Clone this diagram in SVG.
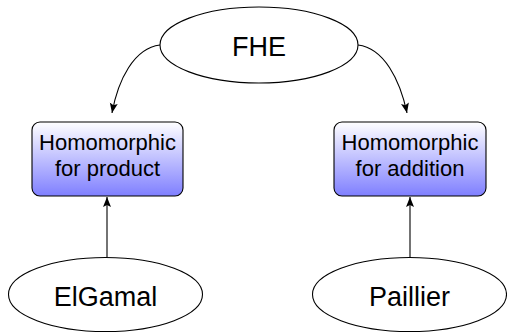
<svg xmlns="http://www.w3.org/2000/svg" width="507" height="333" viewBox="0 0 507 333">
  <style>
    .ell { fill: #ffffff; stroke: #000000; stroke-width: 1.1; }
    .box { stroke: #000000; stroke-width: 1.1; fill: url(#blueFade); }
    .lbl { font-family: "Liberation Sans", Arial, sans-serif; fill: #000000; text-anchor: middle; }
    .big { font-size: 27px; }
    .small { font-size: 22px; }
    .edge { fill: none; stroke: #000000; stroke-width: 1.1; marker-end: url(#tip); }
  </style>
  <defs>
    <linearGradient id="blueFade" x1="0" y1="0" x2="0" y2="1">
      <stop offset="0" stop-color="#ffffff"/>
      <stop offset="1" stop-color="#7f7fff"/>
    </linearGradient>
    <marker id="tip" viewBox="0 0 10 10" refX="10" refY="5" markerWidth="10" markerHeight="10" markerUnits="userSpaceOnUse" orient="auto">
      <path d="M0,1 L10,5 L0,9 L2,5 Z" fill="#000000"/>
    </marker>
  </defs>

  <g id="connectors">
    <path class="edge" d="M160,45 C134,48 118,80 112,113"/>
    <path class="edge" d="M358,45 C384,48 400,80 407,113"/>
    <path class="edge" d="M107,257 L107,197"/>
    <path class="edge" d="M410,257 L410,197"/>
  </g>

  <g id="fhe">
    <ellipse class="ell" cx="259" cy="45" rx="99" ry="38"/>
    <text class="lbl big" x="259" y="56">FHE</text>
  </g>

  <g id="hom-product">
    <rect class="box" x="32" y="122" width="151" height="74" rx="8"/>
    <text class="lbl small" x="107.5" y="150">Homomorphic</text>
    <text class="lbl small" x="107.5" y="176">for product</text>
  </g>

  <g id="hom-addition">
    <rect class="box" x="334" y="122" width="152" height="74" rx="8"/>
    <text class="lbl small" x="410" y="150">Homomorphic</text>
    <text class="lbl small" x="410" y="176">for addition</text>
  </g>

  <g id="elgamal">
    <ellipse class="ell" cx="105.5" cy="294.5" rx="97" ry="37"/>
    <text class="lbl big" x="105.5" y="306">ElGamal</text>
  </g>

  <g id="paillier">
    <ellipse class="ell" cx="409.5" cy="294.5" rx="97" ry="37"/>
    <text class="lbl big" x="409.5" y="306">Paillier</text>
  </g>
</svg>
